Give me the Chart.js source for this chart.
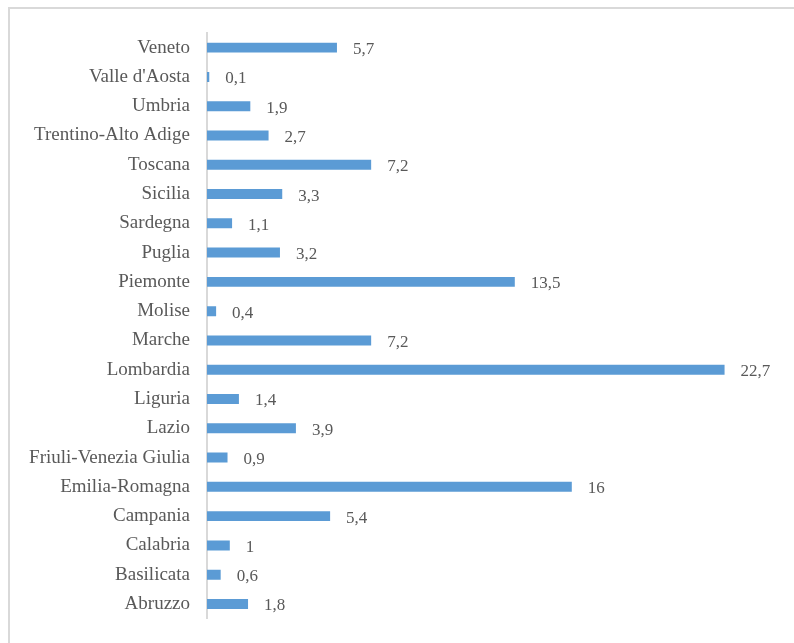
<!DOCTYPE html>
<html>
<head>
<meta charset="utf-8">
<script src="https://cdn.jsdelivr.net/npm/chart.js@4.4.1/dist/chart.umd.min.js"></script>
<style>
  html, body { margin: 0; padding: 0; background: #fff; overflow: hidden; }
  #wrap { position: relative; width: 794px; height: 643px; overflow: hidden; }
  #frame {
    position: absolute; left: 8px; top: 7px; width: 800px; height: 660px;
    border-top: 2px solid #d9d9d9; border-left: 2px solid #d9d9d9;
    box-sizing: border-box; pointer-events: none;
  }
  canvas { position: absolute; left: 0; top: 0; }
</style>
</head>
<body>
<div id="wrap">
  <!-- a few px taller than the window: the bottom margin the layout keeps runs off the page -->
  <canvas id="chart" width="794" height="647"></canvas>
  <div id="frame"></div>
</div>
<script>
// regions, top to bottom as drawn
const regions = ['Veneto', "Valle d'Aosta", 'Umbria', 'Trentino-Alto Adige', 'Toscana', 'Sicilia',
  'Sardegna', 'Puglia', 'Piemonte', 'Molise', 'Marche', 'Lombardia', 'Liguria', 'Lazio',
  'Friuli-Venezia Giulia', 'Emilia-Romagna', 'Campania', 'Calabria', 'Basilicata', 'Abruzzo'];
const shares = [5.7, 0.1, 1.9, 2.7, 7.2, 3.3, 1.1, 3.2, 13.5, 0.4, 7.2, 22.7, 1.4, 3.9, 0.9, 16, 5.4, 1, 0.6, 1.8];

const FONT = '"Liberation Serif", serif';
const TEXT = '#595959';

// writes the value just past the end of each bar
const valueLabels = {
  id: 'valueLabels',
  afterDatasetsDraw(chart) {
    const ctx = chart.ctx;
    const meta = chart.getDatasetMeta(0);
    ctx.save();
    ctx.font = '17px ' + FONT;
    ctx.fillStyle = TEXT;
    ctx.textAlign = 'left';
    ctx.textBaseline = 'middle';
    meta.data.forEach((bar, i) => {
      const txt = String(shares[i]).replace('.', ',');
      ctx.fillText(txt, bar.x + 16, bar.y + 2);
    });
    ctx.restore();
  }
};

new Chart(document.getElementById('chart'), {
  type: 'bar',
  data: {
    labels: regions,
    datasets: [{
      data: shares,
      backgroundColor: '#5b9bd5',
      borderWidth: 0,
      categoryPercentage: 1,
      barPercentage: 0.34
    }]
  },
  options: {
    indexAxis: 'y',
    responsive: false,
    animation: false,
    layout: { padding: { left: 0, right: 17, top: 33, bottom: 13 } },
    plugins: { legend: { display: false }, tooltip: { enabled: false } },
    scales: {
      x: { display: false, min: 0, max: 25 },
      y: {
        afterFit(scale) { scale.width = 207; },
        grid: { display: false, drawTicks: false },
        border: { display: true, color: '#d9d9d9', width: 2 },
        ticks: {
          padding: 17,
          color: TEXT,
          font: { family: FONT, size: 19 }
        }
      }
    }
  },
  plugins: [valueLabels]
});
</script>
</body>
</html>
